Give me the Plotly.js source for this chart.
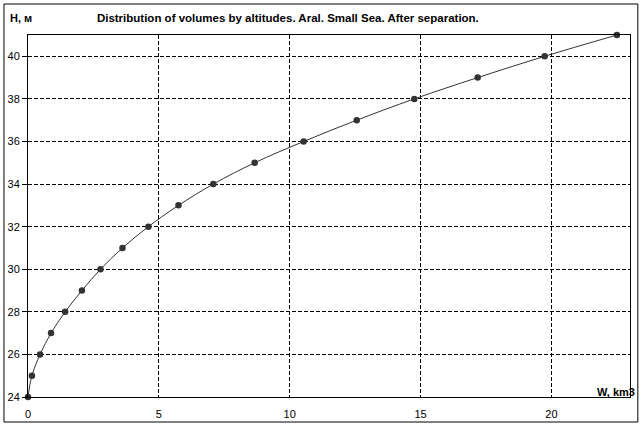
<!DOCTYPE html>
<html>
<head>
<meta charset="utf-8">
<script src="https://cdn.plot.ly/plotly-3.0.1.min.js"></script>
<style>html,body{margin:0;padding:0;background:#fff;}#chart{width:644px;height:430px;}</style>
</head>
<body>
<div id="chart"></div>
<script>
// Volume W (km3) for each altitude H (m)
var altitudes = [24, 25, 26, 27, 28, 29, 30, 31, 32, 33, 34, 35, 36, 37, 38, 39, 40, 41];
var volumes = [0, 0.15, 0.46, 0.88, 1.42, 2.06, 2.77, 3.61, 4.60, 5.75, 7.08, 8.66, 10.53, 12.56, 14.76, 17.18, 19.74, 22.50];
var xTicks = [0, 5, 10, 15, 20];
var yTicks = [24, 26, 28, 30, 32, 34, 36, 38, 40];

var trace = {
  x: volumes,
  y: altitudes,
  type: 'scatter',
  mode: 'lines+markers',
  line: {color: '#333333', width: 1, shape: 'spline'},
  marker: {color: '#333333', size: 6.5},
  cliponaxis: false,
  hoverinfo: 'skip'
};

var layout = {
  width: 644,
  height: 430,
  margin: {l: 28, r: 14, t: 35, b: 33},
  paper_bgcolor: '#ffffff',
  plot_bgcolor: '#ffffff',
  showlegend: false,
  font: {family: 'Liberation Sans, Arial, sans-serif', size: 11, color: '#000'},
  title: {
    text: 'Distribution of volumes by altitudes. Aral. Small Sea. After separation.',
    font: {family: 'Liberation Sans, Arial, sans-serif', size: 11.5, color: '#000', weight: 'bold'},
    xref: 'container', x: 0.447, xanchor: 'center',
    yref: 'container', y: 0.958, yanchor: 'middle'
  },
  xaxis: {
    range: [0, 23],
    tickvals: xTicks,
    ticktext: xTicks.map(String),
    showgrid: true,
    gridcolor: '#000', griddash: '4px,2px', gridwidth: 1,
    zeroline: false,
    showline: true, linecolor: '#000', linewidth: 1, mirror: true,
    ticks: '', ticklabelstandoff: 7,
    tickfont: {size: 11, color: '#000'}
  },
  yaxis: {
    range: [24, 41],
    tickvals: yTicks,
    ticktext: yTicks.map(String),
    showgrid: true,
    gridcolor: '#000', griddash: '4px,2px', gridwidth: 1,
    zeroline: false,
    showline: true, linecolor: '#000', linewidth: 1, mirror: true,
    ticks: 'outside', ticklen: 5, tickcolor: '#000',
    tickfont: {size: 11, color: '#000'}
  },
  annotations: [
    {text: '<b>H, м</b>', xref: 'paper', yref: 'paper', x: -0.033, y: 1.047, xanchor: 'left', yanchor: 'middle', showarrow: false, font: {size: 11, color: '#000'}},
    {text: '<b>W, km3</b>', xref: 'paper', yref: 'paper', x: 1.011, y: 0.014, xanchor: 'right', yanchor: 'middle', showarrow: false, font: {size: 11, color: '#000'}}
  ],
  shapes: [
    {type: 'rect', xref: 'paper', yref: 'paper', x0: -0.0399, x1: 1.013, y0: -0.0691, y1: 1.0856, line: {color: '#000', width: 1}, fillcolor: 'rgba(0,0,0,0)'}
  ]
};

Plotly.newPlot('chart', [trace], layout, {displayModeBar: false, staticPlot: true});
</script>
</body>
</html>
